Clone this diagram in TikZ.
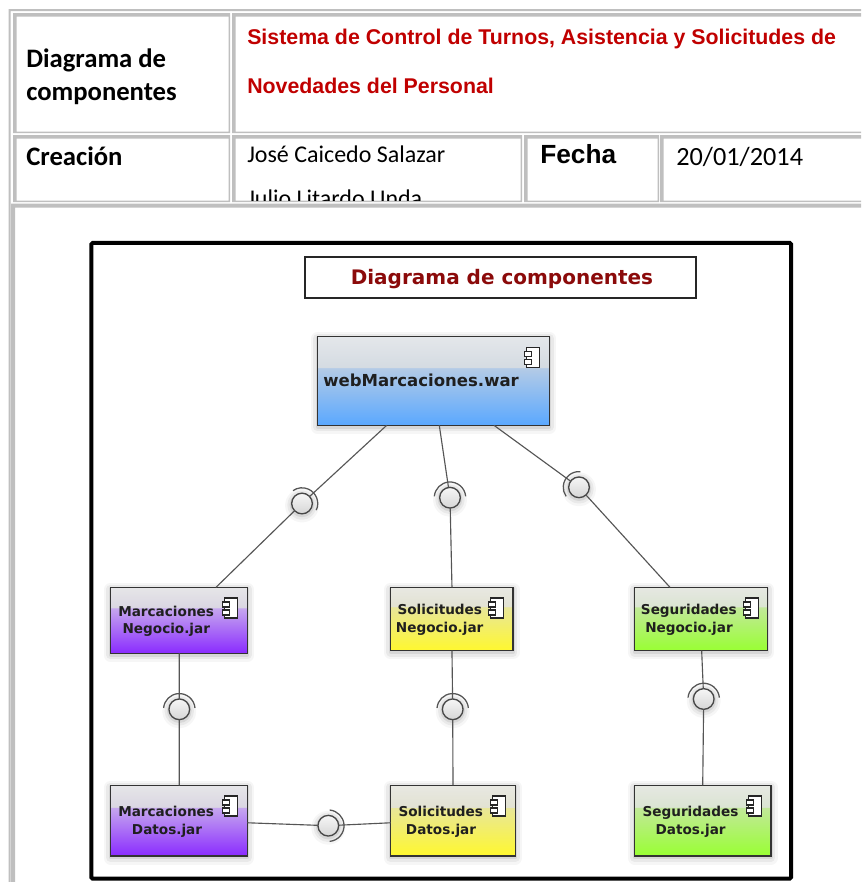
\documentclass[tikz,border=0pt]{standalone}
\usepackage{fontspec}
\usetikzlibrary{calc}
\setmainfont{Carlito}
\newfontfamily\arialf{Liberation Sans}
\newfontfamily\dejaf{DejaVu Sans}
\definecolor{tblgray}{HTML}{BFBFBF}
\definecolor{redtitle}{HTML}{C00000}
\definecolor{darkred}{HTML}{8B0A0A}
\definecolor{wire}{HTML}{555555}
\definecolor{c5aa8ff}{HTML}{5AA8FF}
\definecolor{cb4cbe4}{HTML}{B4CBE6}
\definecolor{cd4dbe2}{HTML}{D4DBE2}
\definecolor{ce4e7ea}{HTML}{E4E7EA}
\definecolor{pb}{HTML}{8A2BFF}\definecolor{pm}{HTML}{C6A8EE}\definecolor{pn}{HTML}{DAD6E2}\definecolor{pt}{HTML}{E6E6E8}
\definecolor{yb}{HTML}{FFF82E}\definecolor{ym}{HTML}{E8E69A}\definecolor{yn}{HTML}{E2E2D2}\definecolor{yt}{HTML}{E8E8E2}
\definecolor{gb}{HTML}{99FF33}\definecolor{gm}{HTML}{C2E89A}\definecolor{gn}{HTML}{DAE4D2}\definecolor{gt}{HTML}{E6E8E2}
\definecolor{bt}{HTML}{F6F6F6}\definecolor{bb}{HTML}{D6D6D6}
\pgfdeclareverticalshading{webshade}{100bp}{color(0bp)=(c5aa8ff);color(25bp)=(c5aa8ff);color(57.4bp)=(cb4cbe4);color(57.6bp)=(cd4dbe2);color(75bp)=(ce4e7ea);color(100bp)=(ce4e7ea)}
\pgfdeclareverticalshading{purpleshade}{100bp}{color(0bp)=(pb);color(25bp)=(pb);color(59.4bp)=(pm);color(59.6bp)=(pn);color(75bp)=(pt);color(100bp)=(pt)}
\pgfdeclareverticalshading{yellowshade}{100bp}{color(0bp)=(yb);color(25bp)=(yb);color(59.4bp)=(ym);color(59.6bp)=(yn);color(75bp)=(yt);color(100bp)=(yt)}
\pgfdeclareverticalshading{greenshade}{100bp}{color(0bp)=(gb);color(25bp)=(gb);color(59.4bp)=(gm);color(59.6bp)=(gn);color(75bp)=(gt);color(100bp)=(gt)}
\pgfdeclareverticalshading{ballshade}{100bp}{color(0bp)=(bb);color(25bp)=(bb);color(75bp)=(bt);color(100bp)=(bt)}
\tikzset{
  softshadow/.style={
    preaction={draw=black,draw opacity=.035,line width=10pt,line join=round,transform canvas={yshift=-1.5pt}},
    preaction={draw=black,draw opacity=.05,line width=6.5pt,line join=round,transform canvas={yshift=-1.2pt}},
    preaction={draw=black,draw opacity=.08,line width=3pt,line join=round,transform canvas={yshift=-1pt}}},
  comp/.style={rectangle,draw=black!80,line width=.9pt,inner sep=0pt,outer sep=0pt,softshadow},
  iface/.style={circle,draw=black!72,line width=1pt,shading=ballshade,minimum size=15.5pt,inner sep=0pt,outer sep=0pt,softshadow},
  wireline/.style={draw=wire,line width=.85pt},
  ifacearc/.style={draw=wire,line width=.95pt},
  boxlabel/.style={anchor=base west,inner sep=0pt,font=\dejaf\bfseries\fontsize{10.2pt}{12pt}\selectfont,text=black!88},
  tabletext/.style={anchor=base west,inner sep=0pt,font=\fontsize{18pt}{22pt}\selectfont,text=black},
  tablebold/.style={tabletext,font=\bfseries\fontsize{20pt}{24pt}\selectfont},
  redtext/.style={anchor=base west,inner sep=0pt,font=\arialf\bfseries\fontsize{16pt}{19pt}\selectfont,text=redtitle},
  pics/compicon/.style={code={
    \draw[fill=white,draw=black!85,line width=.8pt] (-6.5,-10) rectangle (6.5,10);
    \draw[fill=white,draw=black!85,line width=.8pt] (-8.5,-6) rectangle (-1.5,-1);
    \draw[fill=white,draw=black!85,line width=.8pt] (-8.5,2) rectangle (-1.5,7);
  }}
}
\newcommand{\tcell}[4]{%
  \fill[tblgray,even odd rule] (#1,#2) rectangle (#3,#4) ({#1+3.5},{#2+3.5}) rectangle ({#3-1.5},{#4-1.5});}
\newcommand{\compbox}[6]{% name shade x0 y0 x1 y1
  \node[comp,shading=#2,minimum width={(#5-#3)*.75pt},minimum height={(#6-#4)*.75pt}] (#1) at ({(#3+#5)/2},{(#4+#6)/2}) {};}
\newcommand{\faceof}[4]{% node, start, end
  \draw[ifacearc] ([shift={(#2:#4)}]#1.center) arc[start angle=#2,end angle=#3,radius=#4];}
\begin{document}
\begin{tikzpicture}[x=.75pt,y=-.75pt]
\useasboundingbox (0,0) rectangle (861,882);
\begin{scope}
\clip (0,0) rectangle (861,882);
% table lines
\fill[tblgray,even odd rule] (8.5,9) rectangle (870,890) (10.5,11) rectangle (870,890);
\tcell{13}{13}{230}{133}
\tcell{232}{13}{870}{133}
\tcell{13}{135}{230}{202}
\tcell{232}{135}{522}{202}
\tcell{524}{135}{659}{202}
\tcell{660}{135}{870}{202}
\fill[tblgray,even odd rule] (11,203.5) rectangle (870,890) (15,207.5) rectangle (870,890);
% table text
\node[tablebold] (t1) at (26,67) {Diagrama de};
\node[tablebold] (t2) at (26,100) {componentes};
\node[redtext] (t3) at (247,44) {Sistema de Control de Turnos, Asistencia y Solicitudes de};
\node[redtext] (t4) at (247,93) {Novedades del Personal};
\node[tablebold] (t5) at (26,165) {Creación};
\node[tabletext] (t6) at (247,162.5) {José Caicedo Salazar};
\begin{scope}
\clip (236,138) rectangle (520,200.5);
\node[tabletext] (t7) at (247,206.5) {Julio Litardo Unda};
\end{scope}
\node[redtext,text=black,font=\arialf\bfseries\fontsize{19.7pt}{24pt}\selectfont] (t8) at (540,163) {Fecha};
\node[tabletext,font=\fontsize{19.7pt}{24pt}\selectfont] (t9) at (676,165) {20/01/2014};
% black frame
\node[draw=black,line width=3pt,rectangle,rounded corners=1pt,minimum width={699.7*.75pt},minimum height={635.7*.75pt},inner sep=0pt] (frame) at (441.2,560.8) {};
% title
\node[draw=black!85,fill=white,line width=1.3pt,minimum width={391*.75pt},minimum height={41*.75pt},inner sep=0pt] (titlebox) at (500.5,277.5) {};
\node[anchor=base west,inner sep=0pt,font=\dejaf\bfseries\fontsize{15pt}{18pt}\selectfont,text=darkred] (titletext) at (350.5,284) {Diagrama de componentes};
% boxes
\compbox{web}{webshade}{317.7}{336.7}{549.3}{425.3}
\compbox{mn}{purpleshade}{110.7}{587.3}{247.3}{653.3}
\compbox{md}{purpleshade}{110.7}{785.3}{247.3}{856}
\compbox{sn}{yellowshade}{390.7}{587.3}{513}{650.7}
\compbox{sd}{yellowshade}{390.7}{785.3}{515.3}{856}
\compbox{gn}{greenshade}{634.7}{587.3}{767.3}{650.7}
\compbox{gd}{greenshade}{634.7}{785.3}{771}{856}
% interfaces
\node[iface] (i1) at (302,503.5) {};
\node[iface] (i2) at (450,497.7) {};
\node[iface] (i3) at (579,487.3) {};
\node[iface] (i4) at (179.3,709.3) {};
\node[iface] (i5) at (328.3,825.7) {};
\node[iface] (i6) at (452.7,709.3) {};
\node[iface] (i7) at (703.7,699) {};
\faceof{i1}{-25}{125}{11.8pt}
\faceof{i2}{5}{175}{11.8pt}
\faceof{i3}{85}{215}{11.8pt}
\faceof{i4}{5}{175}{11.8pt}
\faceof{i5}{-85}{85}{11.8pt}
\faceof{i6}{5}{175}{11.8pt}
\faceof{i7}{5}{175}{11.8pt}
% connectors
\draw[wireline] ($(web.south west)!.298!(web.south east)$) -- (i1);
\draw[wireline] (i1) -- ($(mn.north west)!.771!(mn.north east)$);
\draw[wireline] ($(web.south west)!.525!(web.south east)$) -- (i2);
\draw[wireline] (i2) -- ($(sn.north west)!.501!(sn.north east)$);
\draw[wireline] ($(web.south west)!.761!(web.south east)$) -- (i3);
\draw[wireline] (i3) -- ($(gn.north west)!.266!(gn.north east)$);
\draw[wireline] ($(mn.south west)!.502!(mn.south east)$) -- (i4);
\draw[wireline] (i4) -- ($(md.north west)!.502!(md.north east)$);
\draw[wireline] ($(sn.south west)!.501!(sn.south east)$) -- (i6);
\draw[wireline] (i6) -- ($(sd.north west)!.5!(sd.north east)$);
\draw[wireline] ($(gn.south west)!.505!(gn.south east)$) -- (i7);
\draw[wireline] (i7) -- ($(gd.north west)!.499!(gd.north east)$);
\draw[wireline] ($(md.north east)!.53!(md.south east)$) -- (i5);
\draw[wireline] (i5) -- ($(sd.north west)!.53!(sd.south west)$);
% icons
\pic at (533.3,357.3) {compicon};
\pic at (231.3,608) {compicon};
\pic at (231.3,806) {compicon};
\pic at (496.7,608) {compicon};
\pic at (499.3,806) {compicon};
\pic at (751.7,608) {compicon};
\pic at (755,806) {compicon};
% labels
\node[boxlabel,font=\dejaf\bfseries\fontsize{12.4pt}{14pt}\selectfont] (l1) at (323,386) {webMarcaciones.war};
\node[boxlabel] (l2) at (118,616) {Marcaciones};
\node[boxlabel] (l3) at (122.3,633.3) {Negocio.jar};
\node[boxlabel] (l4) at (118,816.7) {Marcaciones};
\node[boxlabel] (l5) at (131.7,834) {Datos.jar};
\node[boxlabel] (l6) at (397.3,614.7) {Solicitudes};
\node[boxlabel] (l7) at (395.7,632) {Negocio.jar};
\node[boxlabel] (l8) at (398.3,816.7) {Solicitudes};
\node[boxlabel] (l9) at (405.7,834) {Datos.jar};
\node[boxlabel] (l10) at (640.7,614.7) {Seguridades};
\node[boxlabel] (l11) at (645,632) {Negocio.jar};
\node[boxlabel] (l12) at (642.3,816.7) {Seguridades};
\node[boxlabel] (l13) at (655.3,834) {Datos.jar};
\end{scope}
\end{tikzpicture}
\end{document}
